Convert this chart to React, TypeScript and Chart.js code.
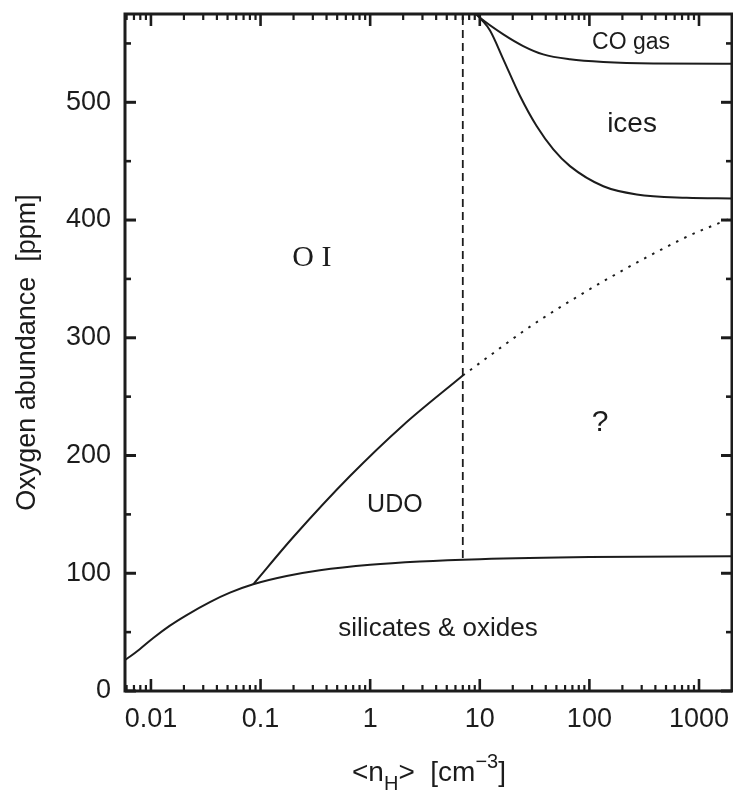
import React, { useEffect, useRef } from 'react';
import { Chart, registerables } from 'chart.js';

Chart.register(...registerables);

// ---- axes ----
const xMin = 0.0058;
const xMax = 2000;
const yMin = 0;
const yMax = 575;
const xTickValues = [0.01, 0.1, 1, 10, 100, 1000];
const xTickLabels = ['0.01', '0.1', '1', '10', '100', '1000'];
const xDecades = [0.001, 0.01, 0.1, 1, 10, 100, 1000];
const xMinorMultipliers = [2, 3, 4, 5, 6, 7, 8, 9];
const yTickValues = [0, 100, 200, 300, 400, 500];
const yTickLabels = ['0', '100', '200', '300', '400', '500'];
const yMinorValues = [50, 150, 250, 350, 450, 550];

// ---- curves (n_H in cm^-3, oxygen in ppm) ----
const silicatesN = [0.0058, 0.0065, 0.0079, 0.0105, 0.0149, 0.0212, 0.0345, 0.0526, 0.0857, 0.173, 0.348, 1.0, 2.84, 10, 100, 2000];
const silicatesO = [26.3, 29.5, 35.5, 45, 55.5, 64.5, 75.5, 83.5, 90.6, 97.6, 102.5, 107.2, 110, 112, 113.8, 114.5];

const udoN = [0.0857, 0.2, 0.655, 2, 7];
const udoO = [90.6, 131, 182.6, 225.8, 268];

const unknownN = [7, 36.7, 671, 2000];
const unknownO = [268, 316, 383, 402];

const boundaryN = [7, 7];
const boundaryO = [113, 575];

const coGasN = [9.0, 10, 16.4, 24.9, 37.9, 66.5, 134, 383, 2000];
const coGasO = [576, 572, 557.7, 547.8, 540.7, 536.5, 534.2, 533, 532.8];

const icesN = [9.3, 10, 12.4, 16.4, 23.3, 33, 46.9, 66.5, 134, 270, 773, 2000];
const icesO = [576, 572, 561, 536.5, 505.3, 479.8, 460, 445.8, 428.7, 421.7, 418.9, 418.3];

// ---- region labels ----
const regionTexts = ['O I', 'UDO', 'silicates & oxides', '?', 'ices', 'CO gas'];
const regionN = [0.294, 1.68, 4.16, 125, 245, 240];
const regionO = [368, 158, 52.6, 228, 481, 551];
const regionFonts = [
  '30px "Liberation Serif", "Times New Roman", serif',
  '25px "Liberation Sans", Arial, sans-serif',
  '26px "Liberation Sans", Arial, sans-serif',
  '30px "Liberation Sans", Arial, sans-serif',
  '28px "Liberation Sans", Arial, sans-serif',
  '23px "Liberation Sans", Arial, sans-serif',
];

const INK = '#1c1c1c';
const SANS = '"Liberation Sans", Arial, Helvetica, sans-serif';

const pts = (xs: number[], ys: number[]) => xs.map((x, i) => ({ x, y: ys[i] }));

const framePlugin = {
  id: 'frameAndText',
  afterDatasetsDraw(chart: any) {
    const { ctx, chartArea: a, scales } = chart;
    const xs = scales.x;
    const ys = scales.y;
    ctx.save();
    ctx.strokeStyle = INK;
    ctx.lineCap = 'butt';
    const seg = (x1: number, y1: number, x2: number, y2: number) => {
      ctx.beginPath();
      ctx.moveTo(x1, y1);
      ctx.lineTo(x2, y2);
      ctx.stroke();
    };
    const xTick = (v: number, len: number) => {
      const p = xs.getPixelForValue(v);
      if (p < a.left + 1 || p > a.right - 1) return;
      seg(p, a.bottom, p, a.bottom - len);
      seg(p, a.top, p, a.top + len);
    };
    const yTick = (v: number, len: number) => {
      const p = ys.getPixelForValue(v);
      seg(a.left, p, a.left + len, p);
      seg(a.right, p, a.right - len, p);
    };
    ctx.lineWidth = 2.2;
    xDecades.forEach((d) => xMinorMultipliers.forEach((m) => xTick(d * m, 6)));
    ctx.lineWidth = 2.6;
    xTickValues.forEach((v) => xTick(v, 12));
    ctx.lineWidth = 2.6;
    yMinorValues.forEach((v) => yTick(v, 6));
    ctx.lineWidth = 3;
    yTickValues.forEach((v) => yTick(v, 11));
    ctx.lineWidth = 3;
    ctx.strokeRect(a.left, a.top, a.right - a.left, a.bottom - a.top);

    // region labels
    ctx.fillStyle = INK;
    ctx.textAlign = 'center';
    ctx.textBaseline = 'middle';
    regionTexts.forEach((t, i) => {
      ctx.font = regionFonts[i];
      ctx.fillText(t, xs.getPixelForValue(regionN[i]), ys.getPixelForValue(regionO[i]));
    });

    // x axis title: <n_H>  [cm^-3]
    const mainFont = `28px ${SANS}`;
    const smallFont = `20px ${SANS}`;
    const parts = [
      { t: '<n', f: mainFont, dy: 0 },
      { t: 'H', f: smallFont, dy: 9 },
      { t: '>  [cm', f: mainFont, dy: 0 },
      { t: '\u22123', f: smallFont, dy: -13 },
      { t: ']', f: mainFont, dy: 0 },
    ];
    let total = 0;
    parts.forEach((p) => {
      ctx.font = p.f;
      total += ctx.measureText(p.t).width;
    });
    let x = 429 - total / 2;
    const base = 781;
    ctx.textAlign = 'left';
    ctx.textBaseline = 'alphabetic';
    parts.forEach((p) => {
      ctx.font = p.f;
      ctx.fillText(p.t, x, base + p.dy);
      x += ctx.measureText(p.t).width;
    });
    ctx.restore();
  },
};

export default function App() {
  const ref = useRef<HTMLCanvasElement>(null);

  useEffect(() => {
    document.body.style.margin = '0';
    const canvas = ref.current;
    if (!canvas) return;
    const solid = { showLine: true, pointRadius: 0, borderColor: INK, borderWidth: 2, cubicInterpolationMode: 'monotone' as const };
    const chart = new Chart(canvas, {
      type: 'scatter',
      data: {
        datasets: [
          { label: 'silicates & oxides', data: pts(silicatesN, silicatesO), ...solid },
          { label: 'UDO', data: pts(udoN, udoO), ...solid },
          { label: 'unknown', data: pts(unknownN, unknownO), ...solid, borderDash: [2.5, 6.5] },
          { label: 'boundary', data: pts(boundaryN, boundaryO), showLine: true, pointRadius: 0, borderColor: INK, borderWidth: 1.8, borderDash: [8, 5], tension: 0 },
          { label: 'CO gas', data: pts(coGasN, coGasO), ...solid },
          { label: 'ices', data: pts(icesN, icesO), ...solid },
        ],
      },
      options: {
        responsive: false,
        animation: false,
        layout: { padding: { top: 14, right: 1, left: 0, bottom: 0 } },
        plugins: { legend: { display: false }, tooltip: { enabled: false } },
        scales: {
          x: {
            type: 'logarithmic',
            min: xMin,
            max: xMax,
            grid: { display: false, drawTicks: false },
            border: { display: false },
            afterBuildTicks: (s: any) => {
              s.ticks = xTickValues.map((v) => ({ value: v, major: true }));
            },
            afterFit: (s: any) => {
              s.height = 103;
              s.paddingLeft = 0;
              s.paddingRight = 0;
            },
            ticks: {
              autoSkip: false,
              maxRotation: 0,
              padding: 12,
              color: INK,
              font: { family: SANS, size: 27 },
              callback: (v: any) => {
                const i = xTickValues.indexOf(Number(v));
                return i >= 0 ? xTickLabels[i] : '';
              },
            },
          },
          y: {
            type: 'linear',
            min: yMin,
            max: yMax,
            grid: { display: false, drawTicks: false },
            border: { display: false },
            afterBuildTicks: (s: any) => {
              s.ticks = yTickValues.map((v) => ({ value: v }));
            },
            afterFit: (s: any) => {
              s.width = 125;
              s.paddingTop = 0;
              s.paddingBottom = 0;
            },
            title: {
              display: true,
              text: 'Oxygen abundance  [ppm]',
              color: INK,
              font: { family: SANS, size: 27 },
              padding: { top: 11, bottom: 0 },
            },
            ticks: {
              padding: 14,
              color: INK,
              font: { family: SANS, size: 27 },
              callback: (v: any) => {
                const i = yTickValues.indexOf(Number(v));
                return i >= 0 ? yTickLabels[i] : '';
              },
            },
          },
        },
      },
      plugins: [framePlugin],
    });
    return () => chart.destroy();
  }, []);

  return <canvas ref={ref} width={733} height={794} style={{ display: 'block' }} />;
}
